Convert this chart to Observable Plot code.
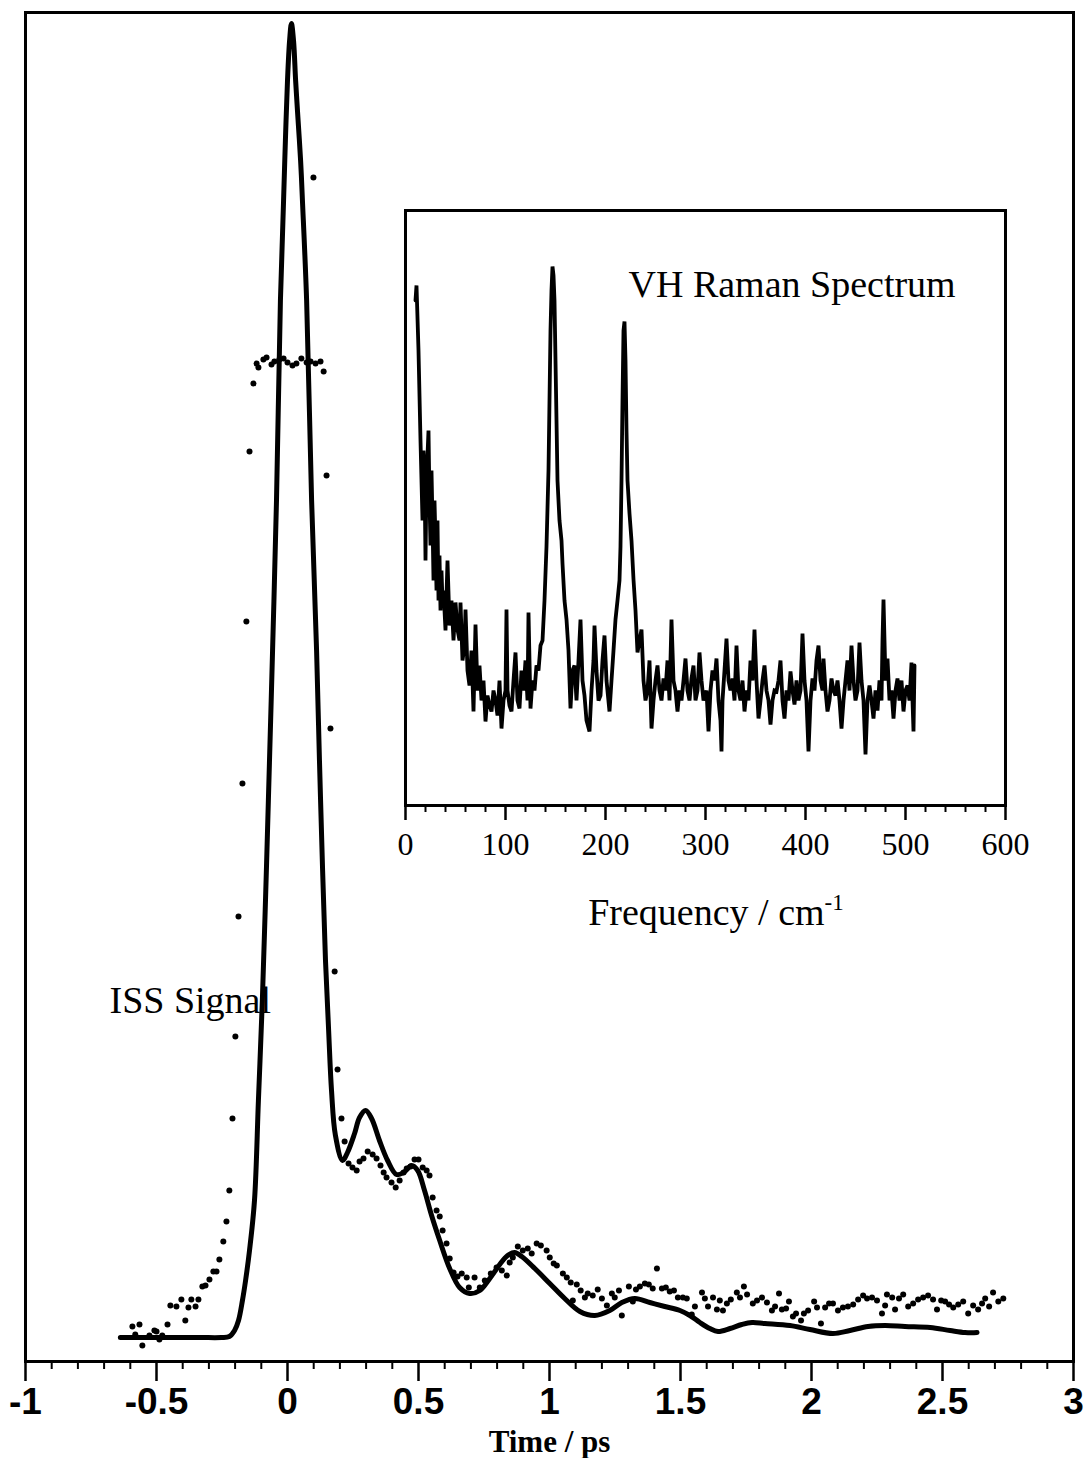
<!DOCTYPE html>
<html><head><meta charset="utf-8">
<script src="https://cdn.jsdelivr.net/npm/d3@7"></script>
<script src="https://cdn.jsdelivr.net/npm/@observablehq/plot@0.6"></script>
<style>
html,body{margin:0;padding:0;background:#fff;}
#wrap{position:relative;width:1087px;height:1458px;overflow:hidden;background:#fff;}
#main{position:absolute;left:0;top:0;}
#inset{position:absolute;left:360px;top:200px;}
</style></head><body>
<div id="wrap"><div id="main"></div><div id="inset"></div></div>
<script>
// ---- ISS fit (solid line): time / ps, signal (a.u., baseline 0)
const fitTime = [-0.638,-0.527,-0.336,-0.252,-0.222,-0.202,-0.187,-0.172,-0.160,-0.145,-0.126,-0.111,-0.096,-0.084,-0.073,-0.057,-0.042,-0.027,-0.015,-0.008,0.000,0.008,0.015,0.023,0.031,0.038,0.050,0.057,0.073,0.092,0.111,0.122,0.134,0.145,0.157,0.168,0.183,0.210,0.229,0.256,0.275,0.298,0.321,0.351,0.382,0.416,0.443,0.474,0.497,0.523,0.550,0.581,0.619,0.657,0.695,0.734,0.772,0.810,0.840,0.867,0.894,0.944,1.001,1.058,1.116,1.173,1.230,1.276,1.326,1.383,1.440,1.498,1.536,1.574,1.612,1.643,1.689,1.734,1.773,1.822,1.918,1.994,2.082,2.147,2.216,2.281,2.357,2.453,2.529,2.586,2.632];
const fitSignal = [0,0,0,0,1,7,17,37,57,87,137,237,337,437,537,687,837,1037,1137,1197,1257,1297,1314,1297,1257,1227,1177,1137,1037,837,687,577,467,377,307,247,202,177,185,204,220,227,219,197,177,163,165,172,167,147,122,97,69,50,44,47,59,73,82,85,81,69,54,39,26,22,27,35,39,35,31,27,22,15,9,6,9,13,15,14,12,8,4,7,11,12,11,10,7,5,5];

// ---- ISS data (dots)
const dataTime = [-0.592,-0.581,-0.565,-0.554,-0.527,-0.508,-0.500,-0.489,-0.478,-0.458,-0.447,-0.424,-0.405,-0.390,-0.378,-0.367,-0.351,-0.340,-0.325,-0.313,-0.298,-0.283,-0.271,-0.260,-0.245,-0.233,-0.222,-0.210,-0.199,-0.187,-0.172,-0.157,-0.145,-0.130,-0.118,-0.111,-0.092,-0.080,-0.061,-0.050,-0.031,-0.015,0.000,0.019,0.034,0.053,0.073,0.088,0.099,0.107,0.126,0.138,0.149,0.164,0.180,0.191,0.206,0.218,0.233,0.248,0.264,0.275,0.290,0.306,0.325,0.340,0.355,0.367,0.378,0.397,0.413,0.428,0.443,0.455,0.470,0.485,0.500,0.516,0.531,0.542,0.554,0.569,0.581,0.592,0.607,0.619,0.634,0.649,0.665,0.684,0.692,0.714,0.734,0.753,0.776,0.798,0.818,0.837,0.848,0.860,0.879,0.898,0.917,0.932,0.951,0.967,0.989,1.001,1.016,1.028,1.051,1.066,1.081,1.089,1.104,1.119,1.135,1.146,1.165,1.184,1.200,1.219,1.238,1.249,1.265,1.276,1.303,1.318,1.330,1.345,1.364,1.379,1.394,1.410,1.429,1.444,1.459,1.475,1.490,1.509,1.524,1.543,1.555,1.582,1.593,1.605,1.624,1.639,1.650,1.662,1.677,1.692,1.715,1.727,1.742,1.754,1.776,1.792,1.811,1.830,1.849,1.861,1.876,1.887,1.903,1.914,1.929,1.941,1.960,1.971,1.987,2.010,2.021,2.036,2.052,2.067,2.082,2.101,2.120,2.139,2.159,2.178,2.197,2.212,2.231,2.250,2.269,2.281,2.288,2.308,2.319,2.334,2.350,2.369,2.388,2.407,2.426,2.445,2.464,2.479,2.495,2.510,2.525,2.541,2.560,2.579,2.598,2.617,2.636,2.651,2.663,2.678,2.693,2.713,2.732];
const dataSignal = [11,3,13,-8,2,7,6,-2,2,13,32,31,38,17,30,38,31,38,51,52,58,66,66,78,96,116,147,219,301,421,554,716,886,954,974,970,978,980,973,976,978,979,975,972,974,979,975,976,1160,974,976,966,862,609,366,268,219,196,174,170,167,176,179,186,183,179,172,165,160,155,150,157,165,169,171,178,178,170,167,162,140,127,121,107,94,79,65,61,64,60,50,60,50,57,64,70,67,62,75,80,91,87,89,84,94,92,87,80,74,72,64,60,55,37,53,47,40,44,42,48,39,32,44,40,47,22,51,36,48,51,54,53,49,69,49,50,46,47,40,40,39,23,31,45,39,31,40,28,37,27,34,38,45,40,51,43,34,37,40,35,27,31,44,28,29,36,21,24,17,24,27,36,30,14,30,34,34,27,30,31,33,38,42,39,40,37,24,32,43,40,28,39,43,31,34,38,40,42,38,28,37,36,33,30,33,36,24,32,28,34,39,31,45,36,39];

// ---- VH Raman spectrum (inset): frequency / cm-1, intensity (a.u.)
const ramanFreq = [10,11,13,15,17,18,19,20,21,23,24,25,26,27,28,29,30,31,32,33,34,35,36,37,38,40,42,44,46,48,50,52,54,55,57,59,60,62,64,66,68,70,72,74,76,78,80,82,84,86,88,90,92,94,96,98,100,101,102,104,106,108,110,112,114,116,118,120,122,123,125,127,129,131,133,135,137,139,141,143,144,145,146,147,148,149,150,151,152,154,156,157,159,161,163,165,167,169,171,173,175,177,179,181,184,186,188,189,191,193,195,197,199,201,204,206,208,210,212,214,215,216,217,218,219,220,221,222,224,226,228,230,232,234,236,238,240,242,244,246,248,250,252,254,256,258,260,262,264,266,268,270,272,274,276,278,280,282,284,286,288,290,292,294,296,298,301,303,305,307,309,311,313,315,316,317,319,321,323,325,327,329,331,333,335,337,339,341,343,345,347,349,351,353,355,357,359,361,363,365,367,369,371,373,375,377,379,381,383,385,387,389,391,393,395,397,399,401,403,405,407,409,411,413,415,417,418,420,422,424,426,428,430,432,434,436,438,440,442,444,446,448,450,452,454,456,458,460,462,464,466,468,470,472,474,476,477,478,479,480,482,484,486,488,490,492,494,496,498,500,502,504,506,507,508,509];
const ramanIntensity = [505,520,455,365,285,355,335,245,325,375,305,260,335,285,225,305,265,215,285,205,250,195,235,205,215,175,245,180,205,165,203,176,165,203,145,160,196,135,120,155,94,181,115,140,105,125,84,110,100,94,115,105,90,125,77,105,115,196,115,100,94,125,153,105,97,135,115,145,105,193,97,125,115,140,135,160,165,205,259,335,405,475,515,539,530,505,445,385,325,285,265,242,205,186,155,97,135,140,105,145,186,125,110,85,74,115,145,180,135,105,110,145,170,125,94,125,155,186,205,225,259,325,405,475,484,445,375,325,292,265,226,195,153,165,176,125,105,115,145,77,105,125,140,115,105,127,115,145,105,186,125,115,94,115,105,125,147,115,105,127,140,105,115,153,125,105,115,74,115,135,125,147,105,85,54,105,135,167,125,115,127,105,160,115,105,125,94,115,105,145,125,176,125,87,105,125,140,115,105,81,105,115,114,125,145,105,87,115,105,134,115,101,125,105,115,172,125,105,54,105,127,115,145,160,125,115,147,115,94,105,127,115,110,125,105,77,105,125,145,115,160,125,105,115,163,125,105,51,105,120,105,87,115,95,125,105,165,206,165,125,147,105,115,87,115,127,105,125,94,115,120,105,143,105,74,140];

// ---- axes
const timeTicks = [-1,-0.5,0,0.5,1,1.5,2,2.5,3];
const timeTickLabels = ["-1","-0.5","0","0.5","1","1.5","2","2.5","3"];
const timeMinorTicks = [-0.9,-0.8,-0.7,-0.6,-0.4,-0.3,-0.2,-0.1,0.1,0.2,0.3,0.4,0.6,0.7,0.8,0.9,1.1,1.2,1.3,1.4,1.6,1.7,1.8,1.9,2.1,2.2,2.3,2.4,2.6,2.7,2.8,2.9];
const freqTicks = [0,100,200,300,400,500,600];
const freqMinorTicks = [20,40,60,80,120,140,160,180,220,240,260,280,320,340,360,380,420,440,460,480,520,540,560,580];

const fit = fitTime.map((t, i) => ({t, s: fitSignal[i]}));
const pts = dataTime.map((t, i) => ({t, s: dataSignal[i]}));
const raman = ramanFreq.map((f, i) => ({f, v: ramanIntensity[i]}));

const serif = "Liberation Serif, Times New Roman, serif";
const sans = "Liberation Sans, Arial, Helvetica, sans-serif";

const main = Plot.plot({
  width: 1087, height: 1458,
  marginLeft: 25, marginRight: 14, marginTop: 12, marginBottom: 97,
  style: {background: "transparent", overflow: "visible", color: "#000"},
  x: {domain: [-1, 3]},
  y: {domain: [-24, 1325], axis: null},
  marks: [
    Plot.frame({stroke: "#000", strokeWidth: 3}),
    Plot.axisX({ticks: timeMinorTicks, tickSize: 8, strokeWidth: 2, tickFormat: () => "", label: null}),
    Plot.axisX({ticks: timeTicks, tickSize: 20, strokeWidth: 2.5, tickPadding: 6,
      tickFormat: d => timeTickLabels[timeTicks.indexOf(d)],
      fontSize: 37, fontWeight: "bold", fontFamily: sans, label: null}),
    Plot.line(fit, {x: "t", y: "s", stroke: "#000", strokeWidth: 5, curve: "catmull-rom"}),
    Plot.dot(pts, {x: "t", y: "s", r: 3, fill: "#000", stroke: null}),
    Plot.text(["ISS Signal"], {frameAnchor: "top-left", dx: 84, dy: 974, fontSize: 38, fontFamily: serif, fill: "#000"}),
    Plot.text(["Time / ps"], {frameAnchor: "bottom", lineAnchor: "top", dy: 68, fontSize: 31, fontWeight: "bold", fontFamily: serif, fill: "#000"})
  ]
});
document.getElementById("main").appendChild(main);

const inset = Plot.plot({
  width: 700, height: 740,
  marginLeft: 45, marginRight: 55, marginTop: 10, marginBottom: 135,
  style: {background: "transparent", overflow: "visible", color: "#000"},
  x: {domain: [0, 600]},
  y: {domain: [0, 595], axis: null},
  marks: [
    Plot.frame({stroke: "#000", strokeWidth: 3}),
    Plot.axisX({ticks: freqMinorTicks, tickSize: 7, strokeWidth: 2, tickFormat: () => "", label: null}),
    Plot.axisX({ticks: freqTicks, tickSize: 15, strokeWidth: 2.5, tickPadding: 12,
      tickFormat: d => String(d), fontSize: 32, fontFamily: serif, label: null}),
    Plot.line(raman, {x: "f", y: "v", stroke: "#000", strokeWidth: 3.8, strokeLinejoin: "miter", strokeMiterlimit: 3}),
    Plot.text(["VH Raman Spectrum"], {frameAnchor: "top-left", dx: 223, dy: 60, fontSize: 38, fontFamily: serif, fill: "#000"})
  ]
});
document.getElementById("inset").appendChild(inset);

const lab = d3.select(inset).append("text")
  .attr("x", 356).attr("y", 725)
  .attr("text-anchor", "middle")
  .attr("font-family", serif).attr("font-size", 38).attr("fill", "#000")
  .text("Frequency / cm");
lab.append("tspan").attr("dy", -15).attr("font-size", 23).text("-1");
</script>
</body></html>
